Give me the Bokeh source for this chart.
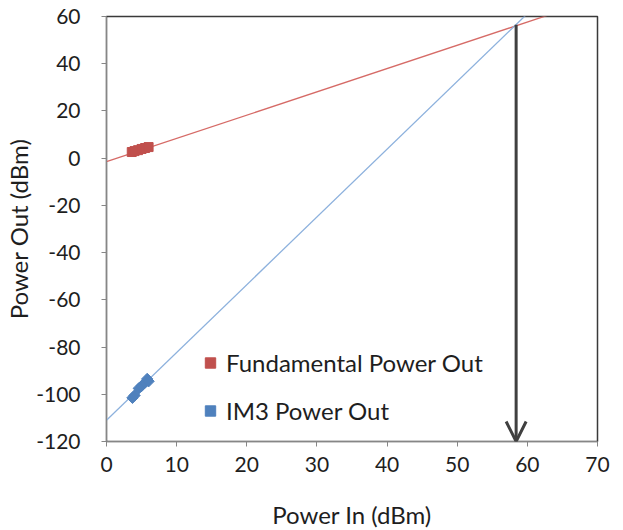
import numpy as np
from bokeh.plotting import figure
from bokeh.models import (Range1d, FixedTicker, Legend, LegendItem, Arrow, OpenHead)
from bokeh.embed import file_html
from bokeh.resources import INLINE

# ---- data ----
fund_x = [3.6, 4.0, 4.5, 5.0, 5.5, 6.0]
fund_y = [2.6, 3.0, 3.4, 3.9, 4.3, 4.7]
im3_x = [3.7, 4.0, 4.6, 5.0, 5.5, 5.8, 6.0]
im3_y = [-101.5, -100.5, -97.5, -96.5, -95.0, -93.5, -94.5]

fund_slope, fund_intercept = 0.986, -1.5
im3_slope, im3_intercept = 2.87, -111.0
trend_x = [0.0, 70.0]

arrow_x = 58.4
arrow_y_top = 56.5
arrow_y_bottom = -120.0

x_ticks = [0, 10, 20, 30, 40, 50, 60, 70]
y_ticks = [-120, -100, -80, -60, -40, -20, 0, 20, 40, 60]
x_tick_labels = [str(v) for v in x_ticks]
y_tick_labels = [str(v) for v in y_ticks]

x_label = "Power In (dBm)"
y_label = "Power Out (dBm)"
fund_name = "Fundamental Power Out"
im3_name = "IM3 Power Out"

RED = "#C0504D"
BLUE = "#4F81BD"
FONT = "Lato"
TXT = "#1e1e1e"

p = figure(width=615, height=528, output_backend="svg", toolbar_location=None,
           x_range=Range1d(0, 70), y_range=Range1d(-120, 60),
           min_border_left=106, min_border_right=18, min_border_top=16, min_border_bottom=87)
p.frame_width = 491
p.frame_height = 425

p.xgrid.visible = False
p.ygrid.visible = False
p.outline_line_color = "#3a3a3a"
p.outline_line_width = 1.5
p.background_fill_color = "white"
p.border_fill_color = "white"

for ax in (p.xaxis[0], p.yaxis[0]):
    ax.axis_line_color = "#868686"
    ax.major_tick_line_color = "#868686"
    ax.major_tick_in = 0
    ax.major_tick_out = 5
    ax.minor_tick_line_color = None
    ax.major_label_text_font = FONT
    ax.major_label_text_font_size = "21px"
    ax.major_label_text_color = TXT
    ax.axis_label_text_font = FONT
    ax.axis_label_text_font_size = "24px"
    ax.axis_label_text_font_style = "normal"
    ax.axis_label_text_color = TXT

p.xaxis.ticker = FixedTicker(ticks=x_ticks)
p.yaxis.ticker = FixedTicker(ticks=y_ticks)
p.xaxis.major_label_overrides = {t: l for t, l in zip(x_ticks, x_tick_labels)}
p.yaxis.major_label_overrides = {t: l for t, l in zip(y_ticks, y_tick_labels)}
p.xaxis.axis_label = x_label
p.yaxis.axis_label = y_label
p.xaxis.major_label_standoff = 10
p.yaxis.major_label_standoff = 21
p.xaxis.axis_label_standoff = 25
p.yaxis.axis_label_standoff = 0

# trend lines
tx = np.array(trend_x)
p.line(tx, fund_slope * tx + fund_intercept, line_color="#D66B67", line_width=1.3)
p.line(tx, im3_slope * tx + im3_intercept, line_color="#8DB1DD", line_width=1.3)

# data points
r_f = p.scatter(fund_x, fund_y, marker="square", size=9, fill_color=RED, line_color=RED)
r_i = p.scatter(im3_x, im3_y, marker="square", angle=np.pi / 4, size=8,
                fill_color=BLUE, line_color=BLUE)

# arrow
p.add_layout(Arrow(end=OpenHead(size=20, line_width=3, line_color="#404040"),
                   x_start=arrow_x, y_start=arrow_y_top, x_end=arrow_x, y_end=arrow_y_bottom,
                   line_width=3, line_color="#404040"))

legend = Legend(items=[LegendItem(label=fund_name, renderers=[r_f]),
                       LegendItem(label=im3_name, renderers=[r_i])],
                location=(91, 16), orientation="vertical",
                background_fill_alpha=0, border_line_color=None,
                padding=0, margin=0, spacing=19,
                glyph_width=26, glyph_height=29, label_height=29,
                label_standoff=3,
                label_text_font=FONT, label_text_font_size="24px",
                label_text_color=TXT)
p.add_layout(legend)

open("out.html", "w").write(file_html(p, INLINE))
